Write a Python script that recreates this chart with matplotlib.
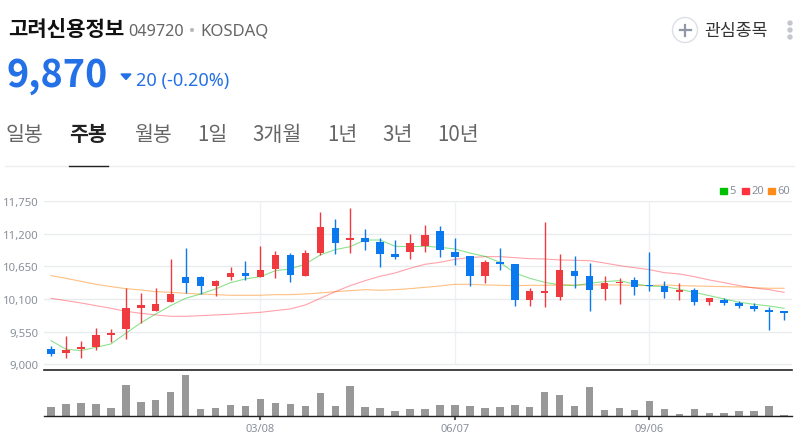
"""Weekly candlestick chart with volume panel."""

import matplotlib
matplotlib.use('Agg')
import matplotlib.pyplot as plt
from matplotlib.patches import Circle, Polygon, Rectangle

plt.rcParams['font.family'] = ['Noto Sans CJK KR', 'DejaVu Sans']

opens = [9258, 9196, 9258, 9297, 9494, 9589, 9954, 9904, 10055, 10465,
         10465, 10319, 10476, 10538, 10476, 10599, 10846, 10493, 10880, 11290,
         11099, 11121, 11054, 10852, 10897, 10998, 11239, 10897, 10818, 10487,
         10723, 10689, 10089, 10201, 10139, 10566, 10487, 10263, 10369, 10425,
         10336, 10319, 10212, 10251, 10055, 10083, 10033, 9976, 9909, 9892]
highs = [9303, 9471, 9393, 9612, 9595, 10280, 10195, 10280, 10768, 10959,
         10482, 10425, 10639, 10734, 10992, 10908, 10869, 10925, 11565, 11447,
         11626, 11278, 11127, 11099, 11194, 11346, 11329, 11127, 10818, 10757,
         10959, 10689, 10280, 11396, 10858, 10824, 10706, 10487, 10454, 10470,
         10891, 10403, 10369, 10285, 10117, 10117, 10061, 10033, 9965, 9892]
lows = [9135, 9107, 9101, 9247, 9382, 9427, 9696, 9898, 10055, 10201,
        10184, 10156, 10425, 10425, 10476, 10448, 10392, 10493, 10841, 10863,
        10880, 10931, 10639, 10773, 10773, 10897, 10807, 10678, 10313, 10364,
        10594, 9976, 9988, 9971, 10089, 10291, 9892, 10089, 10016, 10173,
        10240, 10117, 10089, 10005, 10005, 10005, 9948, 9904, 9584, 9752]
closes = [9168, 9241, 9292, 9499, 9528, 9948, 9999, 10010, 10179, 10369,
          10319, 10403, 10538, 10493, 10583, 10841, 10510, 10869, 11318, 11048,
          11127, 11065, 10852, 10813, 11037, 11177, 10919, 10813, 10493, 10723,
          10695, 10089, 10235, 10229, 10588, 10493, 10257, 10369, 10392, 10308,
          10313, 10223, 10246, 10055, 10111, 10033, 9982, 9937, 9887, 9870]
volumes = [28000, 37000, 39000, 37000, 25000, 94000, 43000, 49000, 73000, 124000,
           22000, 25000, 35000, 30000, 52000, 41000, 37000, 31000, 70000, 30000,
           91000, 28000, 25000, 16000, 22000, 22000, 34000, 34000, 30000, 25000,
           28000, 34000, 28000, 73000, 65000, 31000, 88000, 19000, 25000, 19000,
           46000, 21000, 7000, 21000, 10000, 9000, 16000, 15000, 30000, 4000]

ma5 = [9398, 9253, 9230, 9286, 9342, 9522, 9696, 9847, 9988, 10111,
       10184, 10268, 10375, 10437, 10476, 10577, 10605, 10689, 10841, 10931,
       10981, 11093, 11093, 10987, 10981, 10987, 10970, 10942, 10874, 10818,
       10717, 10538, 10448, 10381, 10336, 10324, 10364, 10392, 10409, 10352,
       10319, 10308, 10263, 10212, 10156, 10100, 10044, 10010, 9982, 9943]
ma20 = [10111, 10072, 10033, 9988, 9943, 9892, 9859, 9831, 9808, 9808,
        9819, 9831, 9842, 9859, 9875, 9904, 9932, 9999, 10111, 10223,
        10324, 10409, 10482, 10538, 10616, 10684, 10717, 10768, 10796, 10813,
        10813, 10796, 10779, 10773, 10757, 10751, 10745, 10706, 10661, 10627,
        10594, 10543, 10521, 10476, 10420, 10375, 10324, 10285, 10257, 10212]
ma60 = [10493, 10448, 10397, 10347, 10308, 10274, 10251, 10223, 10212, 10195,
        10184, 10173, 10162, 10162, 10162, 10173, 10173, 10184, 10201, 10223,
        10240, 10257, 10246, 10257, 10274, 10296, 10319, 10347, 10347, 10336,
        10330, 10324, 10330, 10330, 10336, 10336, 10336, 10336, 10336, 10330,
        10324, 10336, 10324, 10319, 10313, 10308, 10302, 10291, 10280, 10280]

price_ticks = [9000, 9550, 10100, 10650, 11200, 11750]
date_ticks = [14, 27, 40]
date_labels = ['03/08', '06/07', '09/06']
tabs = ['일봉', '주봉', '월봉', '1일', '3개월', '1년', '3년', '10년']
tab_x = [6, 69, 134, 197, 252, 327, 382, 437]

UP = '#ef3a40'
DOWN = '#0a78ee'
W, H = 795, 435
LATIN = ['Noto Sans', 'DejaVu Sans']


def px_axes(fig, left, top, right, bottom):
    return fig.add_axes([left / W, 1 - bottom / H, (right - left) / W, (bottom - top) / H])


fig = plt.figure(figsize=(W / 100, H / 100), dpi=100)

# page furniture, drawn in pixel coordinates
bg = fig.add_axes([0, 0, 1, 1])
bg.set_xlim(0, W)
bg.set_ylim(H, 0)
bg.axis('off')

bg.text(8, 30, '고려신용정보', fontsize=15.2, fontweight='bold', color='#111111', va='center')
bg.text(128.5, 32, '049720', fontsize=11.7, color='#666666', va='center', family=LATIN)
bg.add_patch(Circle((192, 31), 1.4, color='#bbbbbb'))
bg.text(200.5, 32, 'KOSDAQ', fontsize=12, color='#666666', va='center', family=LATIN)
bg.text(7, 75.5, '9,870', fontsize=27.2, fontweight='bold', color='#2470e6', va='center')
bg.add_patch(Polygon([(121, 75), (131, 75), (126, 80.5)], color='#2470e6'))
bg.text(136, 81, '20 (-0.20%)', fontsize=13, color='#2470e6', va='center', family=LATIN)

for x, label in zip(tab_x, tabs):
    active = label == '주봉'
    bg.text(x, 135, label, fontsize=14.8, va='center', color='#222222' if active else '#666666',
            fontweight='bold' if active else 'normal')
bg.plot([5, 795], [166.5, 166.5], color='#eeeeee', linewidth=1)
bg.plot([69, 108], [166.5, 166.5], color='#222222', linewidth=1)

bg.add_patch(Circle((685, 31), 12.5, facecolor='white', edgecolor='#dcdfe6', linewidth=1))
bg.plot([679.5, 690.5], [31, 31], color='#8f97a6', linewidth=1.6)
bg.plot([685, 685], [25.5, 36.5], color='#8f97a6', linewidth=1.6)
bg.text(704, 31, '관심종목', fontsize=12.4, color='#333333', va='center')
for y in (24, 31, 38):
    bg.add_patch(Circle((790, y), 2, color='#c4c7ce'))

# legend squares
for x, color, label in [(720, '#00c000', '5'), (742, '#ff3340', '20'), (768, '#ff8c1a', '60')]:
    bg.add_patch(Rectangle((x, 188.5), 6.5, 6.5, color=color))
    bg.text(x + 9, 191.7, label, fontsize=8, color='#8a8f99', va='center', family=LATIN)

# price panel
ax = px_axes(fig, 44, 202, 792, 370.5)
ax.patch.set_alpha(0)
xs = list(range(len(closes)))
for y in price_ticks:
    ax.axhline(y, color='#e9ebee', linewidth=1, zorder=1)
for x in date_ticks:
    ax.plot([x, x], [9000, 11750], color='#eef0f3', linewidth=1, zorder=1)

ax.plot(xs, ma60, color='#ff8c1a', alpha=0.55, linewidth=0.8, zorder=2)
ax.plot(xs, ma20, color='#ff3340', alpha=0.45, linewidth=0.8, zorder=2)
ax.plot(xs, ma5, color='#00c000', alpha=0.45, linewidth=0.8, zorder=2)

for i in xs:
    color = UP if closes[i] >= opens[i] else DOWN
    ax.plot([i, i], [lows[i], highs[i]], color=color, linewidth=1, solid_capstyle='butt', zorder=3)
    ax.bar(i, abs(closes[i] - opens[i]), bottom=min(opens[i], closes[i]), width=0.5, color=color, zorder=4)

ax.set_xlim(-0.468, 49.53)
ax.set_ylim(8912, 11750)
ax.set_yticks(price_ticks)
ax.set_yticklabels([f'{p:,}' for p in price_ticks], family=LATIN)
ax.set_xticks([])
ax.tick_params(axis='y', length=0, pad=4, labelsize=8.2, labelcolor='#8a8f99')
for side in ('top', 'left', 'right'):
    ax.spines[side].set_visible(False)
ax.spines['bottom'].set_color('#222222')
ax.spines['bottom'].set_linewidth(1.2)

# volume panel
vol = px_axes(fig, 44, 372, 792, 417.3)
vol.patch.set_alpha(0)
vol.bar(xs, volumes, width=0.5, color='#989898')
vol.set_xlim(-0.468, 49.53)
vol.set_ylim(0, 136000)
vol.set_yticks([])
vol.set_xticks(date_ticks)
vol.set_xticklabels(date_labels, family=LATIN)
vol.tick_params(axis='x', length=3, width=1.5, color='#555555', pad=2, labelsize=7.9, labelcolor='#8a8f99')
for side in ('top', 'left', 'right'):
    vol.spines[side].set_visible(False)
vol.spines['bottom'].set_color('#222222')
vol.spines['bottom'].set_linewidth(1)

fig.savefig('out.png', dpi=100)
plt.close(fig)
